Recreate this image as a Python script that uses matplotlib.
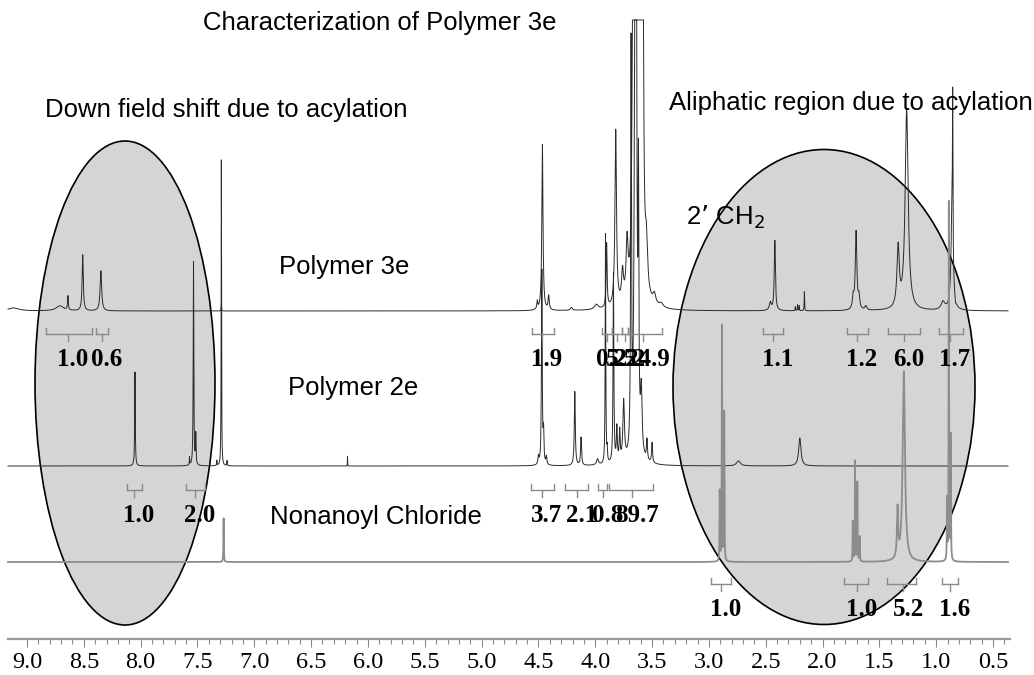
import numpy as np
import matplotlib.pyplot as plt
from matplotlib.patches import Ellipse
from matplotlib.ticker import FixedLocator, FormatStrFormatter

# ---- peak tables: ppm, height (px above baseline), half width (ppm)
p3e_ppm = [9.12, 8.71, 8.64, 8.51, 8.35, 7.29,
           4.51, 4.465, 4.41, 4.21, 3.99, 3.90, 3.82, 3.76, 3.72,
           3.665, 3.645, 3.625, 3.605, 3.585, 3.55, 3.48, 3.42,
           2.46, 2.42, 2.24, 2.22, 2.205, 2.16,
           1.73, 1.705, 1.68, 1.62, 1.335, 1.26, 0.94, 0.86, 0.855, 0.83]
p3e_h = [3, 5, 14, 56, 40, 6,
         8, 166, 14, 3, 5, 64, 176, 30, 55,
         800, 800, 800, 800, 800, 45, 10, 4,
         8, 70, 4, 6, 5, 19,
         12, 78, 12, 4, 60, 200, 8, 110, 135, -4]
p3e_w = [0.06, 0.04, 0.004, 0.006, 0.008, 0.002,
         0.005, 0.006, 0.006, 0.01, 0.02, 0.005, 0.008, 0.01, 0.01,
         0.006, 0.006, 0.006, 0.006, 0.006, 0.012, 0.015, 0.02,
         0.01, 0.006, 0.002, 0.002, 0.002, 0.002,
         0.008, 0.008, 0.008, 0.01, 0.012, 0.016, 0.02, 0.01, 0.002, 0.005]

p2e_ppm = [8.05, 7.57, 7.535, 7.515, 7.33, 7.29, 7.24, 6.18,
           4.50, 4.47, 4.455, 4.43, 4.18, 4.125, 3.98, 3.91, 3.895,
           3.84, 3.81, 3.785, 3.75, 3.685, 3.645, 3.62, 3.595, 3.545, 3.50,
           2.74, 2.20]
p2e_h = [94, 8, 204, 30, 5, 306, 5, 10,
         8, 195, 30, 8, 74, 28, 6, 230, 12,
         190, 34, 30, 60, 400, 2000, 243, 60, 20, 20,
         5, 28]
p2e_w = [0.003, 0.002, 0.003, 0.003, 0.002, 0.002, 0.002, 0.001,
         0.005, 0.004, 0.004, 0.005, 0.005, 0.005, 0.01, 0.003, 0.003,
         0.004, 0.005, 0.005, 0.008, 0.004, 0.005, 0.004, 0.008, 0.005, 0.005,
         0.02, 0.012]

pnc_ppm = [7.27, 2.905, 2.885, 2.865, 1.734, 1.714, 1.694, 1.674,
           1.34, 1.285, 0.905, 0.889, 0.872]
pnc_h = [44, 70, 237, 149, 40, 101, 79, 25,
         49, 190, 60, 360, 124]
pnc_w = [0.002, 0.002, 0.002, 0.002, 0.002, 0.002, 0.002, 0.002,
         0.006, 0.012, 0.002, 0.002, 0.002]

# ---- integrals: start ppm, end ppm, centre ppm, value
i3e_start = [8.833, 8.393, 4.557, 3.941, 3.853, 3.764, 3.712, 2.524, 1.785, 1.424, 0.975]
i3e_end = [8.428, 8.287, 4.363, 3.853, 3.764, 3.712, 3.413, 2.348, 1.600, 1.143, 0.764]
i3e_mid = [8.639, 8.340, 4.469, 3.897, 3.809, 3.738, 3.580, 2.436, 1.697, 1.283, 0.879]
i3e_val = ["1.0", "0.6", "1.9", "0.2", "5.5", "2.2", "24.9", "1.1", "1.2", "6.0", "1.7"]

i2e_start = [8.120, 7.601, 4.565, 4.266, 3.976, 3.879]
i2e_end = [7.988, 7.434, 4.363, 4.064, 3.897, 3.492]
i2e_mid = [8.059, 7.522, 4.469, 4.161, 3.932, 3.677]
i2e_val = ["1.0", "2.0", "3.7", "2.1", "0.8", "89.7"]

inc_start = [2.982, 1.811, 1.433, 0.949]
inc_end = [2.806, 1.600, 1.178, 0.808]
inc_mid = [2.894, 1.697, 1.292, 0.879]
inc_val = ["1.0", "1.0", "5.2", "1.6"]

PX_PER_PPM = 113.65


def px(x):
    # pixel column of the printout -> ppm
    return 9.0 - (x - 27) / PX_PER_PPM


fig = plt.figure(figsize=(10.34, 6.75), dpi=100)
ax = fig.add_axes([0, 0, 1, 1])
ax.set_xlim(px(0), px(1034))
ax.set_ylim(675, 0)

ppm = np.linspace(px(8), px(1008), 24000)


def spectrum(pos, hgt, wid, clip=None):
    y = np.zeros_like(ppm)
    for p, h, w in zip(pos, hgt, wid):
        y += h / (1 + ((ppm - p) / w) ** 2)
    if clip is not None:
        y = np.minimum(y, clip)
    return y


# highlighted regions
ax.add_patch(Ellipse((px(125), 383), 180 / PX_PER_PPM, 484,
                     facecolor="#d5d5d5", edgecolor="black", lw=1.2, zorder=1))
ax.add_patch(Ellipse((px(824), 387), 302 / PX_PER_PPM, 475,
                     facecolor="#d5d5d5", edgecolor="black", lw=1.2, zorder=1))

# spectra (stacked, baselines in px)
ax.plot(ppm, 311 - spectrum(p3e_ppm, p3e_h, p3e_w, clip=291), color="#2a2a2a", lw=0.7, zorder=2)
ax.plot(ppm, 466 - spectrum(p2e_ppm, p2e_h, p2e_w, clip=446), color="#2a2a2a", lw=0.7, zorder=2)
ax.plot(ppm, 562 - spectrum(pnc_ppm, pnc_h, pnc_w), color="#8c8c8c", lw=1.3, zorder=2)


def integrals(starts, ends, mids, vals, yb):
    for s, e, m, v in zip(starts, ends, mids, vals):
        ax.plot([s, e], [yb, yb], color="#8a8a8a", lw=1, zorder=3)
        ax.plot([s, s], [yb, yb - 6], color="#8a8a8a", lw=1, zorder=3)
        ax.plot([e, e], [yb, yb - 6], color="#8a8a8a", lw=1, zorder=3)
        ax.plot([m, m], [yb, yb + 7], color="#8a8a8a", lw=1, zorder=3)
        ax.text(m - 5 / PX_PER_PPM, yb + 26, v, ha="center", va="center",
                family="Liberation Serif", weight="bold", fontsize=18, zorder=4)


integrals(i3e_start, i3e_end, i3e_mid, i3e_val, 334)
integrals(i2e_start, i2e_end, i2e_mid, i2e_val, 490)
integrals(inc_start, inc_end, inc_mid, inc_val, 584)

# labels
sans = "Liberation Sans"
ax.text(px(380), 23, "Characterization of Polymer 3e", ha="center", va="center",
        family=sans, fontsize=18.5)
ax.text(px(45), 110, "Down field shift due to acylation", ha="left", va="center",
        family=sans, fontsize=18.5)
ax.text(px(669), 103, "Aliphatic region due to acylation", ha="left", va="center",
        family=sans, fontsize=18.5, zorder=4)
ax.text(px(686), 217, "2\u2019 CH$_2$", ha="left", va="center",
        family=sans, fontsize=18.5, zorder=4)
ax.text(px(279), 267, "Polymer 3e", ha="left", va="center", family=sans, fontsize=18.5)
ax.text(px(288), 388, "Polymer 2e", ha="left", va="center", family=sans, fontsize=18.5)
ax.text(px(270), 517, "Nonanoyl Chloride", ha="left", va="center", family=sans, fontsize=18.5)

# ppm axis
for side in ["top", "left", "right"]:
    ax.spines[side].set_visible(False)
ax.spines["bottom"].set_position(("data", 639))
ax.spines["bottom"].set_bounds(px(8), px(1010))
ax.spines["bottom"].set_color("#9a9a9a")
ax.spines["bottom"].set_linewidth(1.6)
ax.set_yticks([])
ax.xaxis.set_major_locator(FixedLocator(np.arange(5, 91, 5) / 10))
ax.xaxis.set_minor_locator(FixedLocator(np.arange(4, 91) / 10))
ax.xaxis.set_major_formatter(FormatStrFormatter("%.1f"))
ax.tick_params(axis="x", which="major", direction="out", length=6, width=0.8,
               color="#8a8a8a", pad=3, labelsize=17.5)
ax.tick_params(axis="x", which="minor", direction="out", length=3.5, width=0.8,
               color="#8a8a8a")
for lab in ax.get_xticklabels():
    lab.set_family("Liberation Serif")

fig.savefig("out.png", dpi=100)
